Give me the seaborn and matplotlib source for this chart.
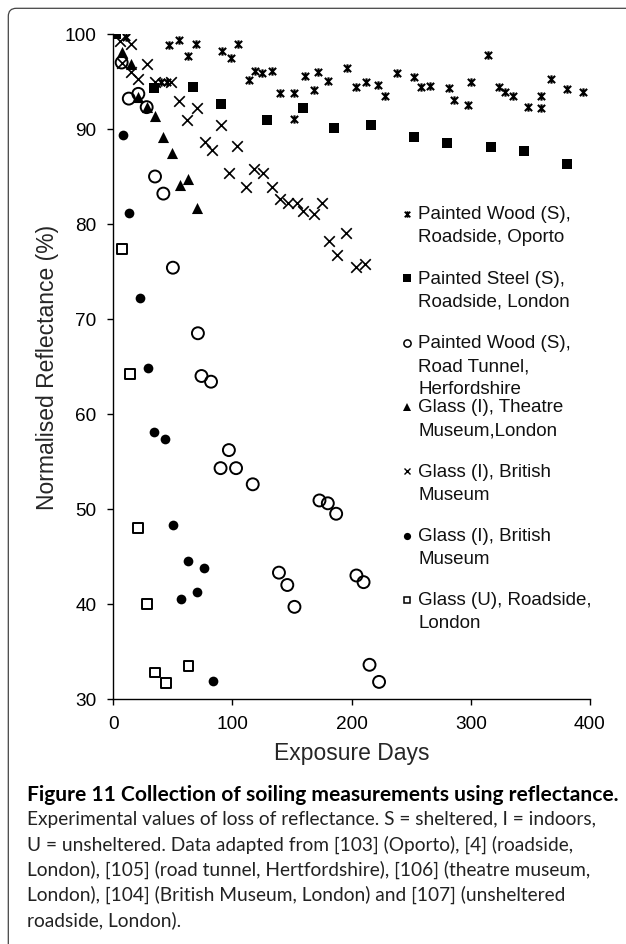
import matplotlib
matplotlib.use("Agg")
import matplotlib.pyplot as plt
import seaborn as sns
from matplotlib.path import Path
from matplotlib.patches import FancyBboxPatch
from matplotlib.lines import Line2D

# ---------------- data ----------------
oporto_days = [11, 40, 45, 47, 55, 63, 69, 91, 99, 105, 114, 119, 125, 133, 140, 152, 152,
               161, 168, 172, 180, 196, 204, 212, 222, 228, 238, 252, 258, 266, 282, 286,
               298, 300, 314, 324, 329, 335, 348, 359, 359, 367, 381, 394]
oporto_vals = [99.7, 94.9, 94.9, 98.8, 99.4, 97.7, 99.0, 98.2, 97.5, 99.0, 95.2, 96.1, 95.9,
               96.1, 93.8, 93.8, 91.1, 95.6, 94.1, 96.0, 95.1, 96.4, 94.4, 94.9, 94.6, 93.5,
               95.9, 95.5, 94.4, 94.5, 94.3, 93.1, 92.5, 95.0, 97.8, 94.4, 93.9, 93.5, 92.3,
               93.5, 92.2, 95.3, 94.2, 93.9]

steel_days = [2, 34, 67, 90, 129, 159, 185, 216, 252, 280, 317, 345, 381]
steel_vals = [100, 94.3, 94.4, 92.6, 91.0, 92.2, 90.1, 90.4, 89.2, 88.5, 88.1, 87.7, 86.3]

tunnel_days = [7, 13, 21, 28, 35, 42, 50, 71, 74, 82, 90, 97, 103, 117, 139, 146, 152,
               173, 180, 187, 204, 210, 215, 223]
tunnel_vals = [97.0, 93.2, 93.7, 92.3, 85.0, 83.2, 75.4, 68.5, 64.0, 63.4, 54.3, 56.2, 54.3,
               52.6, 43.3, 42.0, 39.7, 50.9, 50.6, 49.5, 43.0, 42.3, 33.6, 31.8]

theatre_days = [7, 15, 21, 28, 35, 42, 49, 56, 63, 70]
theatre_vals = [98.1, 96.8, 93.4, 92.3, 91.4, 89.2, 87.5, 84.1, 84.7, 81.7]

bmx_days = [6, 7, 15, 15, 21, 28, 35, 48, 55, 62, 70, 77, 83, 90, 97, 104, 111, 118, 126,
            133, 140, 147, 154, 159, 168, 175, 181, 188, 195, 204, 211]
bmx_vals = [99.3, 97.0, 98.9, 96.0, 95.3, 96.8, 95.0, 94.9, 92.9, 91.0, 92.2, 88.6, 87.8,
            90.4, 85.4, 88.2, 83.9, 85.8, 85.4, 83.9, 82.6, 82.2, 82.2, 81.4, 81.1, 82.2,
            78.2, 76.7, 79.1, 75.5, 75.8]

bmdot_days = [8, 13, 22, 29, 34, 43, 50, 57, 63, 70, 76, 84]
bmdot_vals = [89.4, 81.2, 72.2, 64.8, 58.1, 57.4, 48.3, 40.5, 44.5, 41.3, 43.8, 31.9]

glassu_days = [7, 14, 21, 28, 35, 44, 63]
glassu_vals = [77.4, 64.2, 48.0, 40.0, 32.8, 31.7, 33.5]

labels = ["Painted Wood (S),\nRoadside, Oporto",
          "Painted Steel (S),\nRoadside, London",
          "Painted Wood (S),\nRoad Tunnel,\nHerfordshire",
          "Glass (I), Theatre\nMuseum,London",
          "Glass (I), British\nMuseum",
          "Glass (I), British\nMuseum",
          "Glass (U), Roadside,\nLondon"]

x_ticks = [0, 100, 200, 300, 400]
y_ticks = [30, 40, 50, 60, 70, 80, 90, 100]
x_label = "Exposure Days"
y_label = "Normalised Reflectance (%)"
caption_title = "Figure 11 Collection of soiling measurements using reflectance."
caption_lines = ["Experimental values of loss of reflectance. S = sheltered, I = indoors,",
                 "U = unsheltered. Data adapted from [103] (Oporto), [4] (roadside,",
                 "London), [105] (road tunnel, Hertfordshire), [106] (theatre museum,",
                 "London), [104] (British Museum, London) and [107] (unsheltered",
                 "roadside, London)."]

# ---------------- style ----------------
sns.set_style("ticks")
plt.rcParams['font.family'] = ['Liberation Sans', 'DejaVu Sans']

W, H = 626, 945
fig = plt.figure(figsize=(W / 100, H / 100), dpi=100)
ax = fig.add_axes([113.3 / W, 1 - 700 / H, (590 - 113.3) / W, 665 / H])

star = Path([(-1, -1), (1, 1), (-1, 1), (1, -1), (0, -1.15), (0, 1.15)],
            [Path.MOVETO, Path.LINETO] * 3)

# (days, vals, marker, size_pt, face, lw, legend_size)
series = [
    (oporto_days, oporto_vals, star, 6.0, 'black', 1.5, 4.6),
    (steel_days, steel_vals, 's', 6.9, 'black', 0.0, 5.2),
    (tunnel_days, tunnel_vals, 'o', 8.6, 'none', 1.4, 5.2),
    (theatre_days, theatre_vals, '^', 8.0, 'black', 0.0, 6.0),
    (bmx_days, bmx_vals, 'x', 7.6, 'black', 1.2, 5.0),
    (bmdot_days, bmdot_vals, 'o', 7.0, 'black', 0.0, 5.2),
    (glassu_days, glassu_vals, 's', 7.0, 'none', 1.4, 5.0),
]

for days, vals, mk, sz, face, lw, _ in series:
    if mk == 'x':
        sns.scatterplot(x=days, y=vals, ax=ax, marker='x', s=sz ** 2,
                        color='black', linewidth=lw, zorder=3)
    else:
        sns.scatterplot(x=days, y=vals, ax=ax, marker=mk, s=sz ** 2,
                        color='black', facecolor=face, edgecolor='black',
                        linewidth=lw, zorder=3)

ax.set_xlim(0, 400)
ax.set_ylim(30, 100)
ax.set_xticks(x_ticks)
ax.set_yticks(y_ticks)
for s in ['top', 'right']:
    ax.spines[s].set_visible(False)
for s in ['left', 'bottom']:
    ax.spines[s].set_linewidth(1.0)
    ax.spines[s].set_color('black')
ax.tick_params(axis='both', direction='out', length=4, width=1.0, colors='black',
               labelsize=13.7)
ax.tick_params(axis='y', pad=8.0)
ax.tick_params(axis='x', pad=7.5)
ax.set_xlabel(x_label, fontsize=16.5)
ax.xaxis.set_label_coords(0.5, -0.063)
ax.set_ylabel(y_label, fontsize=16.5, labelpad=4)

# ---------------- legend (manual, marker on first line) ----------------
for i, (lab, ser) in enumerate(zip(labels, series)):
    days, vals, mk, sz, face, lw, lsz = ser
    py = 215 + 64.3 * i
    if mk == 'x':
        h = Line2D([406.7 / W], [1 - py / H], marker='x', markersize=lsz, color='black',
                   mew=1.0, ls='none', transform=fig.transFigure)
    elif mk is star:
        h = Line2D([406.7 / W], [1 - py / H], marker=mk, markersize=lsz, color='black',
                   mfc='black', mec='black', mew=1.3, ls='none', transform=fig.transFigure)
    else:
        h = Line2D([406.7 / W], [1 - py / H], marker=mk, markersize=lsz,
                   mfc=face, mec='black', mew=1.1 if face == 'none' else 0.0,
                   ls='none', transform=fig.transFigure)
    fig.add_artist(h)
    for k, line in enumerate(lab.split('\n')):
        fig.text(418.3 / W, 1 - (py + 23 * k) / H, line, fontsize=13.5, va='center',
                 ha='left', color='#111111')

# ---------------- caption ----------------
cap_font = ['Lato', 'DejaVu Sans']
t = fig.text(27 / W, 1 - 795 / H, caption_title, fontsize=12, fontweight='bold',
             family=cap_font, va='center', ha='left', color='black')
body = []
for k, line in enumerate(caption_lines):
    body.append(fig.text(27 / W, 1 - (820 + 25 * k) / H, line, fontsize=12,
                         family=cap_font, va='center', ha='left', color='#222222'))
fig.canvas.draw()
r = fig.canvas.get_renderer()
wt = t.get_window_extent(r).width
t.set_fontsize(12 * 586 / wt)
wb = body[0].get_window_extent(r).width
for b in body:
    b.set_fontsize(12 * 568 / wb)

# ---------------- frame ----------------
frame = FancyBboxPatch((8.3 / 100, -1.0), 10.0, (H - 9.3) / 100 + 1.0,
                       boxstyle="round,pad=0,rounding_size=0.08",
                       transform=fig.dpi_scale_trans, fill=False,
                       edgecolor='#444444', linewidth=0.9)
fig.add_artist(frame)

fig.savefig("out.png", dpi=100)
